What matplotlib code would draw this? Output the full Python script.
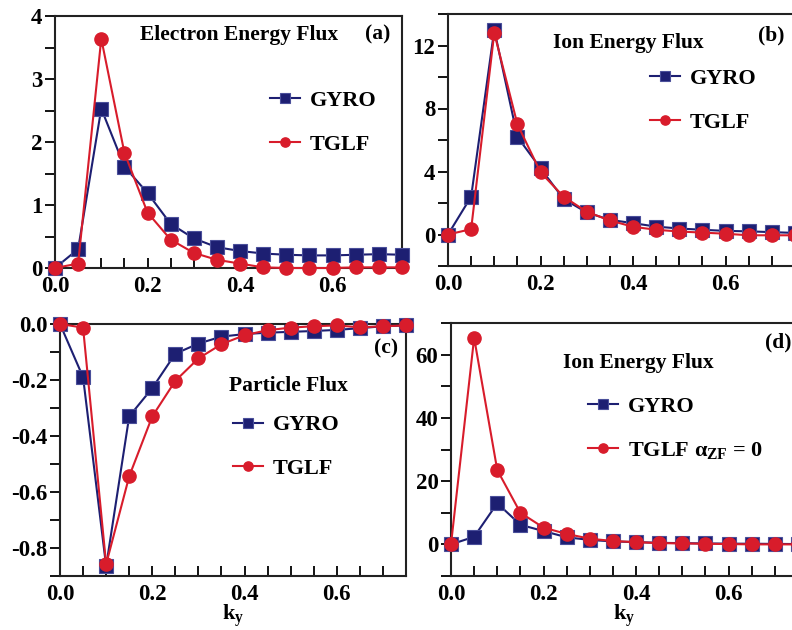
import numpy as np
import matplotlib
matplotlib.use('Agg')
import matplotlib.pyplot as plt
from matplotlib.ticker import MultipleLocator

plt.rcParams['font.family'] = ['Liberation Serif', 'DejaVu Serif']
plt.rcParams['font.weight'] = 'bold'
plt.rcParams['mathtext.fontset'] = 'custom'
plt.rcParams['mathtext.rm'] = 'Liberation Serif'
plt.rcParams['mathtext.it'] = 'Liberation Serif'
plt.rcParams['mathtext.bf'] = 'Liberation Serif:bold'
plt.rcParams['axes.unicode_minus'] = True

# wavenumber grid
ky = [0.0, 0.05, 0.10, 0.15, 0.20, 0.25, 0.30, 0.35, 0.40, 0.45, 0.50, 0.55, 0.60, 0.65, 0.70, 0.75]

# (a) electron energy flux
elec_gyro = [0.0, 0.30, 2.53, 1.61, 1.19, 0.70, 0.47, 0.33, 0.27, 0.23, 0.21, 0.20, 0.20, 0.21, 0.22, 0.21]
elec_tglf = [0.0, 0.07, 3.64, 1.83, 0.88, 0.45, 0.24, 0.13, 0.07, 0.01, 0.0, 0.0, 0.0, 0.01, 0.01, 0.01]

# (b) ion energy flux
ion_gyro = [0.0, 2.4, 13.0, 6.2, 4.2, 2.25, 1.4, 0.93, 0.72, 0.5, 0.38, 0.3, 0.23, 0.2, 0.15, 0.1]
ion_tglf = [0.0, 0.34, 12.8, 7.0, 3.95, 2.4, 1.44, 0.89, 0.49, 0.3, 0.19, 0.12, 0.05, -0.05, -0.05, -0.05]

# (c) particle flux
part_gyro = [0.0, -0.19, -0.865, -0.33, -0.229, -0.106, -0.07, -0.045, -0.036, -0.031, -0.028, -0.025, -0.021, -0.015, -0.008, -0.005]
part_tglf = [0.0, -0.013, -0.858, -0.544, -0.33, -0.203, -0.123, -0.072, -0.04, -0.022, -0.013, -0.008, -0.005, -0.012, -0.008, -0.005]

# (d) ion energy flux, TGLF without zonal flow mixing
ionzf_tglf = [0.0, 65.3, 23.5, 10.0, 5.3, 3.3, 1.8, 1.06, 0.7, 0.4, 0.3, 0.2, 0.1, 0.0, 0.0, 0.0]

c_gyro = '#1d1f72'
c_tglf = '#d81c2b'

fig = plt.figure(figsize=(7.92, 6.3), dpi=100)
W, H = 792.0, 630.0

def make_ax(left, right, top, bottom):
    return fig.add_axes([left / W, 1 - bottom / H, (right - left) / W, (bottom - top) / H])

ax_a = make_ax(55, 402, 16, 268)
ax_b = make_ax(448, 795, 14, 266)
ax_c = make_ax(60, 406, 324, 576)
ax_d = make_ax(451, 798, 323, 576)


def style(ax, ylim, ymaj, ymin, fmt):
    ax.set_xlim(0, 0.75)
    ax.set_ylim(*ylim)
    ax.xaxis.set_major_locator(MultipleLocator(0.2))
    ax.xaxis.set_minor_locator(MultipleLocator(0.05))
    ax.yaxis.set_major_locator(MultipleLocator(ymaj))
    ax.yaxis.set_minor_locator(MultipleLocator(ymin))
    ax.xaxis.set_major_formatter(plt.FormatStrFormatter('%.1f'))
    ax.yaxis.set_major_formatter(plt.FormatStrFormatter(fmt))
    ax.tick_params(axis='x', which='both', direction='in', length=7, width=1.3, labelsize=16.5, pad=6)
    ax.tick_params(axis='y', which='both', direction='out', length=7, width=1.3, labelsize=16.5, pad=2)
    for s in ax.spines.values():
        s.set_linewidth(1.5)
        s.set_color('#222222')
    for lab in ax.get_xticklabels() + ax.get_yticklabels():
        lab.set_fontweight('bold')


def plot_pair(ax, g, t, tlabel):
    ax.plot(ky, g, '-s', color=c_gyro, lw=1.5, ms=9.5, mec='#4a4f9a', mew=0.8, label='GYRO', clip_on=False, zorder=3)
    ax.plot(ky, t, '-o', color=c_tglf, lw=1.5, ms=9.5, mec=c_tglf, label=tlabel, clip_on=False, zorder=4)


def legend(ax, x, y):
    leg = ax.legend(loc='center left', bbox_to_anchor=(x, y), frameon=False,
                    handlelength=1.35, handletextpad=0.45, labelspacing=1.05,
                    borderpad=0, borderaxespad=0, markerscale=0.7,
                    prop={'family': 'Liberation Serif', 'weight': 'bold', 'size': 16})
    return leg


title_kw = dict(fontsize=15.5, fontweight='bold', ha='center', va='center')

# (a)
plot_pair(ax_a, elec_gyro, elec_tglf, 'TGLF')
style(ax_a, (0, 4), 1, 0.5, '%d')
legend(ax_a, 0.62, 0.577)
ax_a.text(0.53, 0.925, 'Electron Energy Flux', transform=ax_a.transAxes, **title_kw)
ax_a.text(0.931, 0.925, '(a)', transform=ax_a.transAxes, **title_kw)

# (b)
plot_pair(ax_b, ion_gyro, ion_tglf, 'TGLF')
style(ax_b, (-2, 14), 4, 2, '%d')
legend(ax_b, 0.582, 0.657)
ax_b.text(0.519, 0.885, 'Ion Energy Flux', transform=ax_b.transAxes, **title_kw)
ax_b.text(0.931, 0.915, '(b)', transform=ax_b.transAxes, **title_kw)

# (c)
plot_pair(ax_c, part_gyro, part_tglf, 'TGLF')
style(ax_c, (-0.9, 0.0), 0.2, 0.1, '%.1f')
legend(ax_c, 0.5, 0.512)
ax_c.text(0.659, 0.755, 'Particle Flux', transform=ax_c.transAxes, **title_kw)
ax_c.text(0.942, 0.902, '(c)', transform=ax_c.transAxes, **title_kw)
ax_c.set_xlabel(r'$\mathbf{k_y}$', fontsize=16, labelpad=-2)

# (d)
plot_pair(ax_d, ion_gyro, ionzf_tglf, r'TGLF $\alpha_{\mathbf{ZF}}$ = 0')
style(ax_d, (-10, 70), 20, 10, '%d')
legend(ax_d, 0.395, 0.583)
ax_d.text(0.539, 0.843, 'Ion Energy Flux', transform=ax_d.transAxes, **title_kw)
ax_d.text(0.942, 0.922, '(d)', transform=ax_d.transAxes, **title_kw)
ax_d.set_xlabel(r'$\mathbf{k_y}$', fontsize=16, labelpad=-2)

fig.savefig('out.png', dpi=100)
